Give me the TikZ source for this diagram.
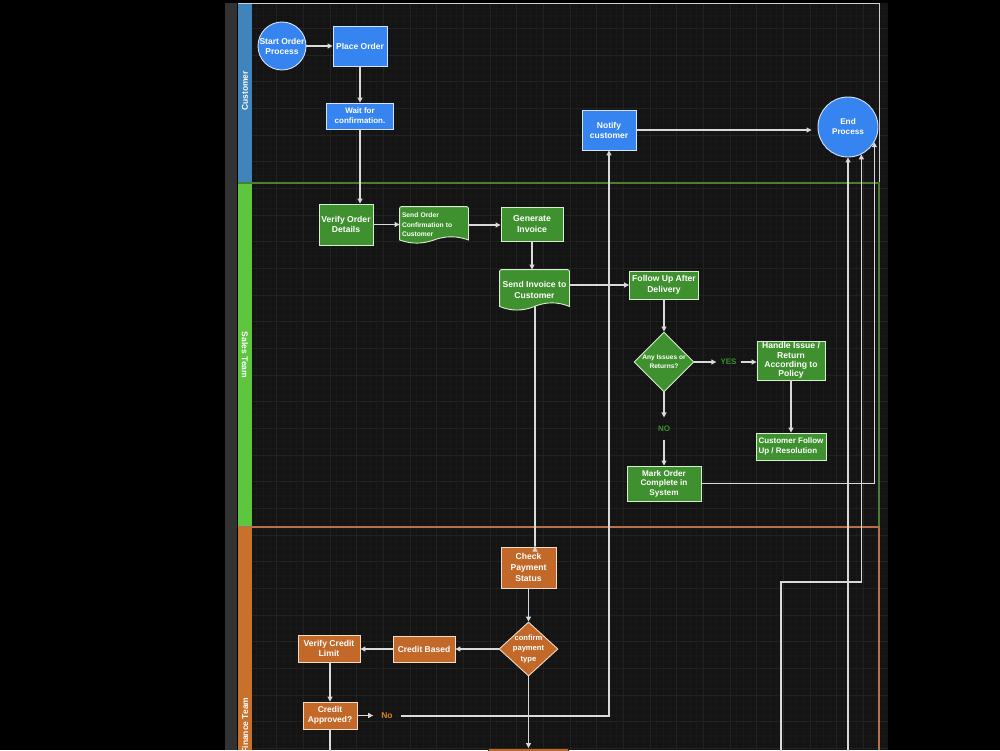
\documentclass[tikz,border=0pt]{standalone}
\usepackage{fontspec}
\setmainfont{Liberation Sans}
\usetikzlibrary{arrows.meta,shapes.geometric,calc}
\definecolor{nodeblue}{HTML}{3584F0}
\definecolor{blueline}{HTML}{D5E4FA}
\definecolor{nodegreen}{HTML}{3E912E}
\definecolor{greenline}{HTML}{D6EDCF}
\definecolor{nodeorange}{HTML}{C2692A}
\definecolor{orangeline}{HTML}{F2DCC6}
\definecolor{hdrblue}{HTML}{3F84BA}
\definecolor{hdrgreen}{HTML}{5DC63E}
\definecolor{hdrorange}{HTML}{C8712C}
\definecolor{canvasc}{HTML}{141414}
\definecolor{gridmin}{HTML}{181818}
\definecolor{gridmaj}{HTML}{222222}
\definecolor{connc}{HTML}{DADADA}
\definecolor{lblgreen}{HTML}{3B8E2E}
\definecolor{lblorange}{HTML}{D9822B}
\definecolor{laneCc}{HTML}{CFCFCF}
\definecolor{laneSc}{HTML}{4B7D33}
\definecolor{laneFc}{HTML}{B87048}
\definecolor{leftstrip}{HTML}{323232}
\pgfdeclarelayer{bg}\pgfdeclarelayer{docs}\pgfsetlayers{bg,docs,main}
\newcommand\myfs[2]{\fontsize{#1}{#2}\selectfont}
\newcommand\docpath[2]{%
  \path[docshape] let \p1=(#1.north west), \p2=(#1.south east), \p3=(#1.south) in
    (\x1,{\y1-2}) [rounded corners=2pt] -- (\x1,\y1) -- (\x2,\y1) [sharp corners] -- (\x2,{\y2+0.5*#2})
    .. controls ({(2*\x2+\x3)/3},{\y2+1.1*#2}) and ({(\x2+2*\x3)/3},{\y2+1.1*#2}) .. (\x3,{\y2+0.5*#2})
    .. controls ({(2*\x3+\x1)/3},{\y2-0.1*#2}) and ({(\x3+2*\x1)/3},{\y2-0.1*#2}) .. (\x1,{\y2+0.5*#2})
    -- cycle;}
\begin{document}
\begin{tikzpicture}[x=1pt,y=-1pt,
  nbase/.style={font=\bfseries\myfs{8.5}{10}, text=white, align=center, inner sep=1pt, line width=0.9pt},
  bluebox/.style={nbase, rectangle, fill=nodeblue, draw=blueline},
  bluecirc/.style={nbase, circle, fill=nodeblue, draw=blueline, inner sep=0pt},
  greenbox/.style={nbase, rectangle, fill=nodegreen, draw=greenline},
  greendia/.style={nbase, diamond, fill=nodegreen, draw=greenline, inner sep=0pt},
  orangebox/.style={nbase, rectangle, fill=nodeorange, draw=orangeline},
  orangedia/.style={nbase, diamond, fill=nodeorange, draw=orangeline, inner sep=-1pt},
  docnode/.style={nbase, rectangle, draw=none, fill=none},
  docshape/.style={fill=nodegreen, draw=greenline, line width=0.9pt},
  conn/.style={draw=connc, line width=1.1pt, -{Triangle[length=5pt,width=5pt]}},
  yesno/.style={font=\bfseries\myfs{8}{9}, text=lblgreen, inner xsep=4pt, inner ysep=8pt},
  nolabel/.style={font=\bfseries\myfs{8.5}{9}, text=lblorange, inner xsep=8pt, inner ysep=4pt},
  lanelbl/.style={font=\bfseries\myfs{8.5}{10}, text=white, inner sep=0pt},
  gmin/.style={draw=gridmin, line width=0.4pt},
  gmaj/.style={draw=gridmaj, line width=0.5pt}]
\useasboundingbox (0,0) rectangle (1000,750);
\begin{pgfonlayer}{bg}
  \fill[black] (0,0) rectangle (1000,750);
  \fill[leftstrip] (225,3) rectangle (238,750);
  \fill[canvasc] (238,3) rectangle (888,750);
  \foreach \i in {0,...,95} \draw[gmin] ({250+6.6667*\i},3) -- ({250+6.6667*\i},750);
  \foreach \j in {1,...,112} \draw[gmin] (238,{1.6667+6.6667*\j}) -- (888,{1.6667+6.6667*\j});
  \foreach \i in {0,...,23} \draw[gmaj] ({250+26.6667*\i},3) -- ({250+26.6667*\i},750);
  \foreach \j in {1,...,28} \draw[gmaj] (238,{1.6667+26.6667*\j}) -- (888,{1.6667+26.6667*\j});
  \fill[hdrblue] (238,3) rectangle (252,183);
  \fill[hdrgreen] (238,183) rectangle (252,527);
  \fill[hdrorange] (238,527) rectangle (252,750);
  \draw[draw=laneCc, line width=0.9pt] (238,3) -- (879,3) -- (879,183);
  \draw[draw=laneSc, line width=1.1pt] (238,183) -- (879,183) -- (879,527);
  \draw[draw=laneFc, line width=1.1pt] (238,527) -- (879,527) -- (879,750);
  \draw[black, line width=0.8pt] (237.6,3) -- (237.6,750);
\end{pgfonlayer}
\begin{scope}
\clip (0,0) rectangle (1000,750);
% lane labels
\node[lanelbl, rotate=90] (lblC) at (245,91) {Customer};
\node[lanelbl, rotate=-90] (lblS) at (245,355) {Sales Team};
\node[lanelbl, rotate=90] (lblF) at (245,725.5) {Finance Team};
% customer lane
\node[bluecirc, minimum size=48] (start) at (282,46) {Start Order\\Process};
\node[bluebox, minimum width=54, minimum height=40] (place) at (360,46) {Place Order};
\node[bluebox, minimum width=67, minimum height=26, font=\bfseries\myfs{8}{10}] (wait) at (360,116) {Wait for\\confirmation.};
\node[bluebox, minimum width=54, minimum height=40] (notify) at (609,130) {Notify\\customer};
\node[bluecirc, minimum size=60, font=\bfseries\myfs{8.2}{10}] (endp) at (848,127) {End\\Process};
% sales lane
\node[greenbox, minimum width=54, minimum height=41, font=\bfseries\myfs{8.6}{10.7}] (verify) at (346,224.5) {Verify Order\\Details};
\node[docnode, minimum width=68, minimum height=36, font=\bfseries\myfs{6.7}{9.5}, align=left, text width=64] (sendconf) at (434,225) {Send Order\\Confirmation to\\Customer};
\node[greenbox, minimum width=62, minimum height=34, font=\bfseries\myfs{8.7}{10.8}] (geninv) at (532,224) {Generate\\Invoice};
\node[docnode, minimum width=69, minimum height=40, font=\bfseries\myfs{8.6}{10.7}] (sendinv) at (534.5,290) {Send Invoice to\\Customer};
\node[greenbox, minimum width=69, minimum height=28, font=\bfseries\myfs{8.6}{11}] (follow) at (664,285) {Follow Up After\\Delivery};
\node[greendia, minimum width=60, minimum height=60, font=\bfseries\myfs{6.6}{8.5}] (issues) at (664,362) {Any Issues or\\Returns?};
\node[yesno] (yes) at (728.5,362) {YES};
\node[greenbox, minimum width=68, minimum height=39, inner ysep=0pt, font=\bfseries\myfs{8.6}{9.4}] (handle) at (791,360.5) {Handle Issue /\\Return\\According to\\Policy};
\node[greenbox, minimum width=70, minimum height=27, align=left, font=\bfseries\myfs{8}{9.4}] (custfu) at (791,446.5) {Customer Follow\\Up / Resolution};
\node[yesno] (no) at (664,428.5) {NO};
\node[greenbox, minimum width=74, minimum height=35, font=\bfseries\myfs{8.2}{9.5}] (mark) at (664,483.5) {Mark Order\\Complete in\\System};
% finance lane
\node[orangebox, minimum width=55, minimum height=41, font=\bfseries\myfs{8.6}{10.8}] (check) at (528.5,567.5) {Check\\Payment\\Status};
\node[orangedia, minimum width=59, minimum height=54, aspect=1.1, font=\bfseries\myfs{7.6}{10.3}] (confirm) at (528.5,649) {confirm\\payment\\type};
\node[orangebox, minimum width=62, minimum height=26] (credit) at (424,649) {Credit Based};
\node[orangebox, minimum width=62, minimum height=27, font=\bfseries\myfs{8.6}{10.7}] (vcl) at (329,648.5) {Verify Credit\\Limit};
\node[orangebox, minimum width=54, minimum height=27, font=\bfseries\myfs{8.4}{10.5}] (capp) at (330,715.5) {Credit\\Approved?};
\node[nolabel] (nolbl) at (387,716) {No};
\node[orangebox, draw=black!85, minimum width=80, minimum height=40] (nextbox) at (528,768.5) {};
\coordinate (offA) at (781,775);
\coordinate (offB) at (848,775);
\coordinate (offC) at (330,775);
% document shapes
\begin{pgfonlayer}{docs}
  \docpath{sendconf}{7}
  \docpath{sendinv}{8}
\end{pgfonlayer}
% connectors
\draw[conn] (start.east) -- (place.west);
\draw[conn] (place.south) -- (wait.north);
\draw[conn] (wait.south) -- (wait.south |- verify.north);
\draw[conn] (verify.east) -- (verify.east -| sendconf.west);
\draw[conn] (sendconf.east) -- (sendconf.east -| geninv.west);
\draw[conn] (geninv.south) -- (geninv.south |- sendinv.north);
\draw[conn] (sendinv.east |- follow.west) -- (follow.west);
\draw[conn] ($(sendinv.south)+(0.5,-4)$) -- ($(sendinv.south)+(0.5,0)$) |- (check.north -| 535,0);
\draw[conn] (follow.south) -- (issues.north);
\draw[conn] (issues.east) -- (yes.west);
\draw[conn] (yes.east) -- (yes.east -| handle.west);
\draw[conn] (handle.south) -- (custfu.north);
\draw[conn] (issues.south) -- (no.north);
\draw[conn] (no.south) -- (mark.north);
\draw[conn] (mark.east) -| (endp.-30);
\draw[conn] (offA) -- ++(0,-193) -| (endp.-64);
\draw[conn] (offB) -- (endp.south);
\draw[conn, shorten >=6pt] (notify.east) -- (notify.east -| endp.west);
\draw[conn] (check.south) -- (confirm.north);
\draw[conn] (confirm.west) -- (confirm.west -| credit.east);
\draw[conn] (credit.west) -- (credit.west -| vcl.east);
\draw[conn] (capp.north |- vcl.south) -- (capp.north);
\draw[conn] (capp.east) -- (capp.east -| nolbl.west);
\draw[conn] (nolbl.east) -| (notify.south);
\draw[conn] (capp.south) -- (offC);
\draw[conn] (confirm.south) -- (confirm.south |- nextbox.north);
\end{scope}
\end{tikzpicture}
\end{document}
